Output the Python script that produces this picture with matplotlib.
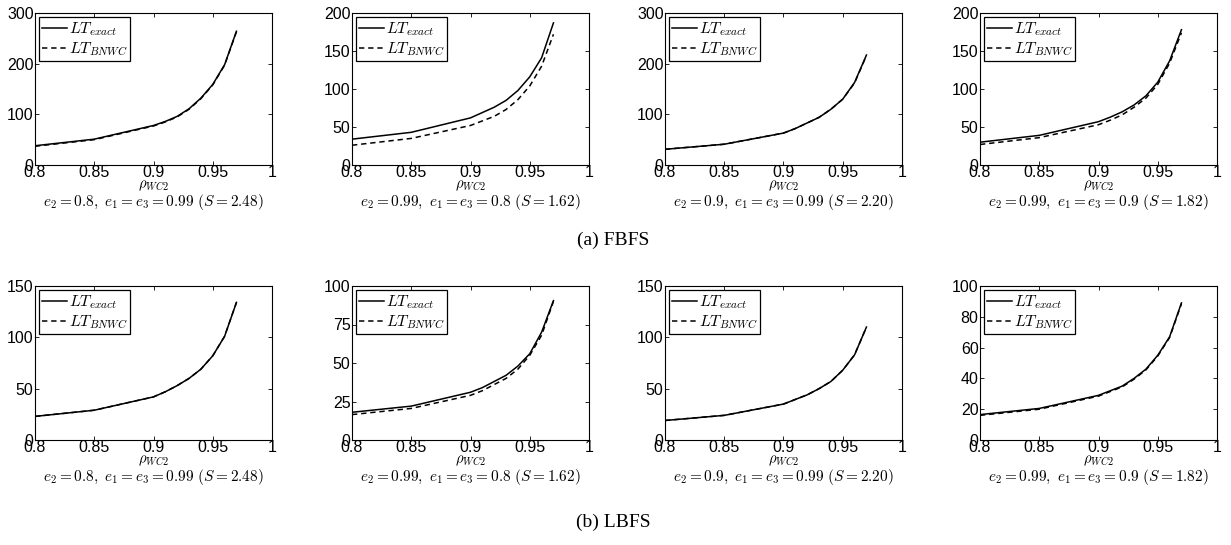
import matplotlib
matplotlib.use("Agg")
import matplotlib.pyplot as plt
from matplotlib.ticker import FixedLocator

plt.rcParams['font.family'] = ['Liberation Sans', 'DejaVu Sans']
plt.rcParams['mathtext.fontset'] = 'cm'

rho = [0.8, 0.85, 0.9, 0.91, 0.92, 0.93, 0.94, 0.95, 0.96, 0.97]

# FBFS row
fb1_exact = [38, 51, 78, 86, 96, 111, 132, 159, 198, 264]
fb1_bnwc  = [37, 50, 77, 85, 95, 110, 131, 158, 197, 263]
fb2_exact = [34, 43, 62, 69, 76, 85, 98, 116, 141, 187]
fb2_bnwc  = [26, 35, 52, 58, 64, 73, 86, 104, 130, 172]
fb3_exact = [31, 41, 63, 72, 83, 94, 110, 130, 163, 217]
fb3_bnwc  = [31, 41, 63, 72, 83, 94, 110, 130, 162, 216]
fb4_exact = [30, 39, 57, 63, 70, 79, 91, 109, 137, 178]
fb4_bnwc  = [27, 36, 53, 59, 66, 76, 88, 106, 134, 174]

# LBFS row
lb1_exact = [23, 29, 42, 47, 53, 60, 69, 82, 101, 134]
lb1_bnwc  = [23, 29, 42, 47, 53, 60, 69, 82, 101, 134]
lb2_exact = [18, 22, 31, 34, 38, 42, 48, 56, 70, 90.5]
lb2_bnwc  = [16.5, 20.5, 29, 32, 36, 40, 46, 55, 68, 90]
lb3_exact = [19, 24, 35, 39.5, 44, 50, 57, 68, 83, 110]
lb3_bnwc  = [19, 24, 35, 39.5, 44, 50, 57, 68, 83, 110]
lb4_exact = [16.5, 20.5, 29, 32, 35, 40, 46, 55, 67, 89]
lb4_bnwc  = [16, 20, 28.5, 31.5, 34.5, 39.5, 45.5, 54.5, 66.5, 88.5]

captions = [r"$e_2 = 0.8,\ e_1 = e_3 = 0.99\ (S = 2.48)$",
            r"$e_2 = 0.99,\ e_1 = e_3 = 0.8\ (S = 1.62)$",
            r"$e_2 = 0.9,\ e_1 = e_3 = 0.99\ (S = 2.20)$",
            r"$e_2 = 0.99,\ e_1 = e_3 = 0.9\ (S = 1.82)$"]

x_ticks = [0.8, 0.85, 0.9, 0.95, 1]
x_ticklabels = ["0.8", "0.85", "0.9", "0.95", "1"]

fb_yticks = [[0, 100, 200, 300], [0, 50, 100, 150, 200], [0, 100, 200, 300], [0, 50, 100, 150, 200]]
lb_yticks = [[0, 50, 100, 150], [0, 25, 50, 75, 100], [0, 50, 100, 150], [0, 20, 40, 60, 80, 100]]

fb_data = [(fb1_exact, fb1_bnwc), (fb2_exact, fb2_bnwc), (fb3_exact, fb3_bnwc), (fb4_exact, fb4_bnwc)]
lb_data = [(lb1_exact, lb1_bnwc), (lb2_exact, lb2_bnwc), (lb3_exact, lb3_bnwc), (lb4_exact, lb4_bnwc)]

W, H = 1231, 545
fig = plt.figure(figsize=(W / 100, H / 100), dpi=100)

lefts = [35, 352, 665, 980]
width = 237
rows = [(13, 165, fb_data, fb_yticks), (286, 440, lb_data, lb_yticks)]

for top, bottom, data, yts in rows:
    for i, (l, (ex, bn), yt) in enumerate(zip(lefts, data, yts)):
        ax = fig.add_axes([l / W, 1 - bottom / H, width / W, (bottom - top) / H])
        ax.plot(rho, ex, color='black', lw=1.1, label=r'$LT_{exact}$')
        ax.plot(rho, bn, color='black', lw=1.1, ls=(0, (3.5, 2.5)), label=r'$LT_{BNWC}$')
        ax.set_xlim(0.8, 1)
        ax.set_ylim(yt[0], yt[-1])
        ax.xaxis.set_major_locator(FixedLocator(x_ticks))
        ax.set_xticklabels(x_ticklabels)
        ax.set_yticks(yt)
        ax.set_yticklabels([str(v) for v in yt])
        ax.tick_params(direction='in', top=True, right=True, labelsize=11.5, length=3, width=0.6, pad=1)
        ax.tick_params(axis='x', pad=0)
        for s in ax.spines.values():
            s.set_linewidth(0.8)
        ax.set_xlabel(r'$\rho_{WC2}$', fontsize=10.5, labelpad=-1)
        leg = ax.legend(loc='upper left', fontsize=11.5, frameon=True, fancybox=False,
                        edgecolor='black', framealpha=1, handlelength=1.55, handletextpad=0.1,
                        borderpad=0.2, labelspacing=0.15, borderaxespad=0.25)
        leg.get_frame().set_linewidth(0.9)
        cx = (l + width / 2) / W
        fig.text(cx, 1 - (bottom + 37) / H, captions[i], ha='center', va='center', fontsize=11)

fig.text(613 / W, 1 - 240 / H, "(a) FBFS", ha='center', va='center', fontsize=14,
         family=['Liberation Serif', 'DejaVu Serif'])
fig.text(613 / W, 1 - 522 / H, "(b) LBFS", ha='center', va='center', fontsize=14,
         family=['Liberation Serif', 'DejaVu Serif'])

fig.savefig("out.png", dpi=100, facecolor='white')
